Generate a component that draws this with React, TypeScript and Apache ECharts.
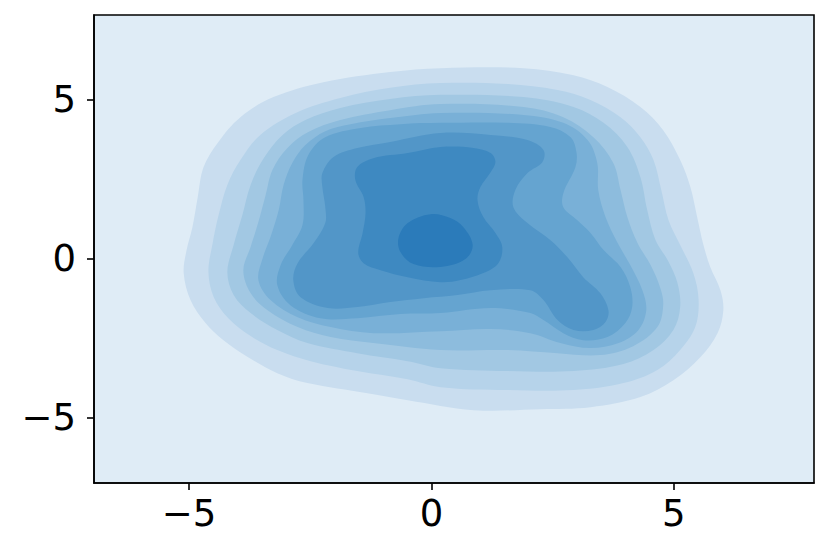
import React, { useEffect, useRef } from "react";
import * as echarts from "echarts";

// Axis extents and ticks (data units)
const xRange = [-6.96, 7.89];
const yRange = [-7.06, 7.65];
const xTicks = [-5, 0, 5];
const yTicks = [-5, 0, 5];

// Fill colours, outermost (background level) to innermost
const levelColors = [
  "#dfecf6",
  "#c9ddef",
  "#b6d3ea",
  "#a2c8e3",
  "#8dbcdd",
  "#79b0d7",
  "#65a4d0",
  "#5296c8",
  "#3e89c1",
  "#2b7bba",
];

// Contour outlines, [x, y] in data units
const level1 = [[0.19,5.98],[1.90,5.98],[2.93,5.76],[3.63,5.39],[4.31,4.76],[4.78,4.03],[5.13,3.09],[5.34,2.24],[5.48,1.30],[5.61,0.42],[5.75,-0.27],[5.96,-1.00],[6.02,-1.63],[5.90,-2.35],[5.55,-3.10],[4.99,-3.83],[4.31,-4.36],[3.28,-4.68],[2.25,-4.74],[0.87,-4.77],[-0.49,-4.46],[-1.32,-4.24],[-2.56,-3.92],[-3.18,-3.61],[-3.79,-3.10],[-4.29,-2.57],[-4.66,-2.03],[-4.97,-1.31],[-5.11,-0.46],[-5.05,0.26],[-4.93,0.98],[-4.82,1.93],[-4.70,2.87],[-4.41,3.63],[-3.94,4.44],[-3.26,5.07],[-2.23,5.54],[-0.85,5.86]];
const level2 = [[0.19,5.51],[1.57,5.48],[2.60,5.29],[3.28,4.98],[3.90,4.44],[4.31,3.81],[4.58,3.09],[4.74,2.15],[4.89,1.20],[5.13,0.42],[5.40,-0.46],[5.51,-1.31],[5.44,-2.16],[5.13,-2.88],[4.66,-3.51],[3.96,-3.92],[2.93,-4.14],[1.57,-4.14],[0.19,-4.05],[-0.49,-3.80],[-1.53,-3.54],[-2.49,-3.23],[-3.18,-2.88],[-3.73,-2.44],[-4.19,-1.88],[-4.49,-1.22],[-4.60,-0.43],[-4.52,0.42],[-4.39,1.36],[-4.21,2.31],[-3.94,3.09],[-3.53,3.88],[-2.80,4.57],[-1.88,5.04],[-0.85,5.36]];
const level3 = [[0.19,5.14],[1.90,5.07],[2.93,4.76],[3.55,4.26],[4.04,3.50],[4.31,2.55],[4.45,1.52],[4.62,0.58],[4.87,-0.05],[5.07,-0.75],[5.13,-1.53],[4.99,-2.25],[4.58,-2.88],[3.96,-3.32],[2.93,-3.54],[1.57,-3.54],[0.19,-3.45],[-0.49,-3.23],[-1.53,-2.98],[-2.56,-2.66],[-3.18,-2.25],[-3.73,-1.72],[-4.08,-1.15],[-4.21,-0.43],[-4.08,0.42],[-3.90,1.36],[-3.73,2.31],[-3.46,3.15],[-3.07,3.88],[-2.60,4.35],[-1.88,4.73],[-0.85,5.01]];
const level4 = [[0.19,4.85],[1.90,4.76],[2.72,4.44],[3.34,3.81],[3.75,3.00],[3.90,2.15],[4.04,1.30],[4.25,0.48],[4.52,-0.21],[4.72,-0.93],[4.78,-1.47],[4.66,-2.16],[4.16,-2.76],[3.48,-3.04],[2.60,-2.98],[1.57,-2.88],[0.19,-2.88],[-1.20,-2.66],[-2.08,-2.47],[-2.76,-2.16],[-3.38,-1.63],[-3.73,-1.09],[-3.88,-0.37],[-3.73,0.36],[-3.57,1.14],[-3.42,1.99],[-3.28,2.78],[-2.97,3.47],[-2.54,3.97],[-1.88,4.35],[-0.85,4.66]];
const level5 = [[0.19,4.57],[1.90,4.51],[2.72,4.26],[3.22,3.72],[3.42,3.00],[3.44,2.15],[3.59,1.30],[3.84,0.48],[4.10,-0.21],[4.35,-1.00],[4.43,-1.63],[4.27,-2.25],[3.86,-2.66],[3.28,-2.82],[2.66,-2.66],[2.04,-2.35],[1.22,-2.22],[0.19,-2.29],[-1.20,-2.35],[-2.08,-2.16],[-2.76,-1.85],[-3.32,-1.31],[-3.57,-0.68],[-3.48,0.01],[-3.32,0.67],[-3.15,1.52],[-3.05,2.31],[-2.87,3.00],[-2.60,3.56],[-2.19,4.00],[-1.67,4.22],[-0.85,4.41]];
const level6 = [[0.19,4.26],[1.57,4.26],[2.45,4.13],[2.87,3.81],[2.99,3.34],[2.97,2.87],[2.72,2.05],[2.72,1.61],[3.01,1.20],[3.28,0.80],[3.55,0.26],[3.90,-0.27],[4.10,-0.90],[4.14,-1.53],[4.00,-2.03],[3.63,-2.47],[3.13,-2.57],[2.72,-2.35],[2.31,-1.94],[2.04,-1.72],[1.22,-1.56],[0.19,-1.72],[-0.64,-1.75],[-1.53,-1.88],[-2.29,-1.88],[-2.91,-1.47],[-3.18,-0.84],[-3.11,-0.21],[-2.87,0.42],[-2.66,1.05],[-2.64,1.83],[-2.66,2.46],[-2.54,3.25],[-2.19,3.81],[-1.46,4.10],[-0.64,4.22]];
const level7 = [[0.19,3.94],[1.22,3.88],[1.98,3.72],[2.31,3.41],[2.29,3.03],[1.98,2.68],[1.73,2.15],[1.69,1.61],[1.98,1.11],[2.45,0.58],[2.80,0.04],[3.13,-0.59],[3.48,-1.09],[3.65,-1.63],[3.59,-2.00],[3.34,-2.25],[2.93,-2.25],[2.60,-1.94],[2.31,-1.31],[2.04,-1.00],[1.22,-1.00],[0.54,-1.15],[-0.16,-1.25],[-0.85,-1.37],[-1.53,-1.53],[-2.14,-1.56],[-2.70,-1.22],[-2.85,-0.68],[-2.76,-0.15],[-2.43,0.48],[-2.19,1.11],[-2.19,1.61],[-2.25,2.24],[-2.25,2.68],[-2.02,3.19],[-1.53,3.47],[-0.85,3.66]];
const level8 = [[0.19,3.50],[0.87,3.47],[1.22,3.31],[1.32,3.03],[1.22,2.71],[1.01,2.24],[0.95,1.83],[1.07,1.30],[1.32,0.80],[1.46,0.36],[1.38,-0.15],[1.07,-0.46],[0.60,-0.68],[0.19,-0.75],[-0.49,-0.59],[-1.05,-0.37],[-1.40,-0.15],[-1.51,0.17],[-1.42,0.80],[-1.36,1.42],[-1.40,1.93],[-1.57,2.46],[-1.53,2.87],[-1.20,3.15],[-0.49,3.31]];
const level9 = [[-0.02,1.39],[0.39,1.27],[0.66,0.98],[0.85,0.42],[0.70,-0.02],[0.19,-0.27],[-0.37,-0.18],[-0.64,0.20],[-0.68,0.64],[-0.49,1.11]];

const contours = [level1, level2, level3, level4, level5, level6, level7, level8, level9];

const fmt = (v: number) => (v < 0 ? "\u2212" + Math.abs(v) : String(v));

export default function App() {
  const ref = useRef<HTMLDivElement>(null);
  useEffect(() => {
    if (!ref.current) return;
    const chart = echarts.init(ref.current, null, { renderer: "svg" });
    const labelStyle = {
      fontFamily: "DejaVu Sans",
      fontSize: 37,
      color: "#000",
    };
    chart.setOption({
      animation: false,
      backgroundColor: "#ffffff",
      grid: {
        left: 94,
        top: 15,
        width: 720,
        height: 468,
        show: true,
        backgroundColor: levelColors[0],
        borderColor: "#000",
        borderWidth: 1.6,
      },
      xAxis: {
        type: "value",
        min: xRange[0],
        max: xRange[1],
        splitLine: { show: false },
        axisLine: { show: true, onZero: false, lineStyle: { color: "#000", width: 1.6 } },
        axisTick: { show: true, length: 7, lineStyle: { color: "#000", width: 1.6 }, customValues: xTicks },
        axisLabel: { ...labelStyle, margin: 12, customValues: xTicks, formatter: fmt },
      },
      yAxis: {
        type: "value",
        min: yRange[0],
        max: yRange[1],
        splitLine: { show: false },
        axisLine: { show: true, onZero: false, lineStyle: { color: "#000", width: 1.6 } },
        axisTick: { show: true, length: 7, lineStyle: { color: "#000", width: 1.6 }, customValues: yTicks },
        axisLabel: { ...labelStyle, margin: 18, customValues: yTicks, formatter: fmt },
      },
      series: [
        {
          type: "custom",
          coordinateSystem: "cartesian2d",
          silent: true,
          clip: true,
          data: contours.map((_, i) => [i, 0]),
          renderItem: (params: any, api: any) => {
            const idx = api.value(0) as number;
            const pts = contours[idx].map((p) => api.coord(p));
            return {
              type: "polygon",
              shape: { points: pts, smooth: 0.35 },
              style: { fill: levelColors[idx + 1], stroke: "none" },
            };
          },
        },
      ],
    });
    return () => chart.dispose();
  }, []);
  return (
    <div
      ref={ref}
      style={{ position: "fixed", left: 0, top: 0, width: 830, height: 556, background: "#fff" }}
    />
  );
}
